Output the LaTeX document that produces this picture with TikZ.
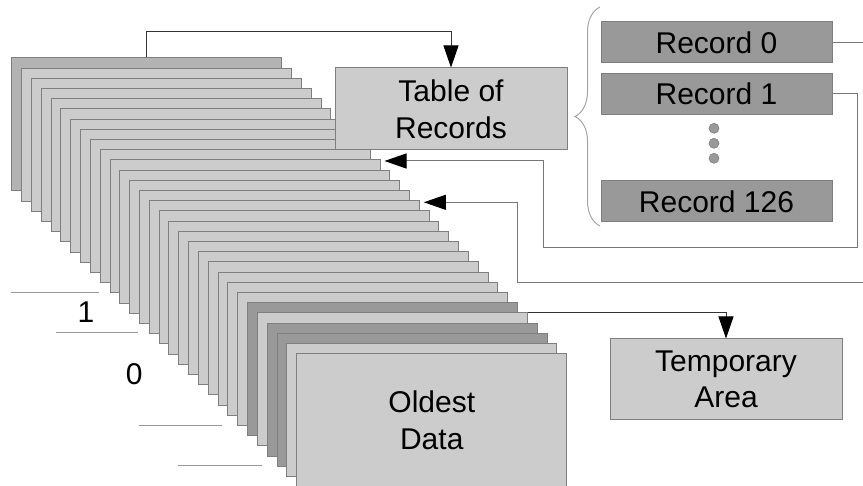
\documentclass[tikz,border=0pt]{standalone}
\usepackage{fontspec}
\setmainfont{Liberation Sans}
\usetikzlibrary{arrows.meta,decorations.pathreplacing}
\definecolor{sheetlight}{HTML}{CCCCCC}
\definecolor{sheetfirst}{HTML}{B3B3B3}
\definecolor{sheetdark}{HTML}{999999}
\definecolor{edgegray}{HTML}{7F7F7F}
\definecolor{wiredark}{HTML}{333333}
\definecolor{wiregray}{HTML}{777777}

\begin{document}
\begin{tikzpicture}[x=1pt,y=-1pt,
		sheet/.style={draw=edgegray, line width=1pt, minimum width=270pt, minimum height=133pt, inner sep=0pt},
		box/.style={draw=edgegray, line width=1pt, fill=sheetlight, inner sep=0pt, align=center,
			font=\fontsize{30}{36.6}\selectfont},
		record/.style={box, fill=sheetdark, minimum width=231pt, minimum height=41pt},
		link/.style={draw=wiredark, line width=1pt},
		reclink/.style={draw=wiregray, line width=1pt},
		feed/.style={-{Triangle[length=22pt,width=15pt,color=black]}},
		tickline/.style={draw=edgegray!80, line width=1pt}]
			\useasboundingbox (0,0) rectangle (863,486);
			\coordinate (rim) at (863,0);
			% stack of sheets, back to front
			\foreach \i in {0,...,29}
			{	\colorlet{tone}{sheetlight}
				\ifnum\i=0 \colorlet{tone}{sheetfirst}\fi
				\ifnum\i=24 \colorlet{tone}{sheetdark}\fi
				\ifnum\i=26 \colorlet{tone}{sheetdark}\fi
				\ifnum\i=27 \colorlet{tone}{sheetdark}\fi
				\node[sheet, fill=tone] (s\i) at (146.7+9.83*\i, 124.5+10.2*\i) {};
			}
			\node[box, draw=none, fill=none] (oldest) at (s29.center) {Oldest\\Data};
			%
			\node[box, minimum width=232pt, minimum height=82pt] (tab)  at (451,109)   {Table of\\Records};
			\node[box, minimum width=232pt, minimum height=81pt] (temp) at (726,379.5) {Temporary\\Area};
			\node[record] (r0)   at (716.5,42.5)  {Record 0};
			\node[record] (r1)   at (716.5,93.8)  {Record 1};
			\node[record] (r126) at (716.5,201.5) {Record 126};
			\foreach \k in {0,1,2}
			{	\node[circle, fill=sheetdark, draw=edgegray, line width=0.6pt, minimum size=10pt, inner sep=0pt] (dot\k) at (714,128.3+15*\k) {};
			}
			% brace round the records
			\coordinate (braceb) at (600,226);
			\coordinate (bracet) at (600,7);
			\draw[decorate, decoration={brace, amplitude=25pt}, edgegray!70, line width=1pt] (braceb) -- (bracet);
			% level marks on the left
			\node[box, draw=none, fill=none] (lvlone)  at (86,312.5) {1};
			\node[box, draw=none, fill=none] (lvlzero) at (134.3,374) {0};
			\def\ticks {11/99/293, 56/138/333, 139/222/426, 178/262/466}
			\foreach \a\b\y in \ticks
			{	\draw[tickline] (\a,\y) -- (\b,\y);
			}
			% connectors
			\draw[link, feed] (s0.north) -- ++(0,-26) -| (tab.north);
			\draw[link, feed] (s25.north east) -| (temp.north);
			\draw[reclink] (r0.east) -- (r0.east -| rim);
			\coordinate (turn1) at (543,248);
			\coordinate (t10) at ([xshift=4pt,yshift=-1.5pt]s10.north east);
			\draw[reclink, feed] (r1.east) -- ++(25,0) |- (turn1) |- (t10);
			\coordinate (turn2) at (517,283);
			\coordinate (t14) at ([xshift=4pt,yshift=-2pt]s14.north east);
			\draw[reclink, feed] (turn2 -| rim) -- (turn2) |- (t14);
\end{tikzpicture}
\end{document}
